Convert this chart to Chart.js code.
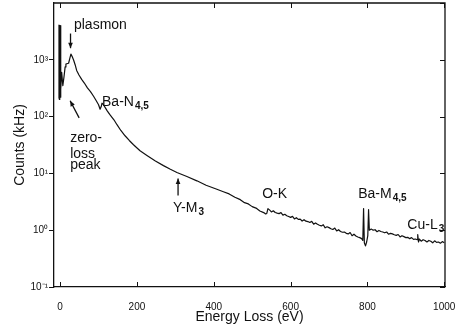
<!DOCTYPE html>
<html lang="en">
<head>
  <meta charset="UTF-8">
  <script src="https://cdn.jsdelivr.net/npm/chart.js@4.4.0/dist/chart.umd.min.js"></script>
  <title>EELS spectrum</title>
  <style>
    body { margin: 0; background: #fff; }
    #wrap { width: 459px; height: 327px; }
  </style>
</head>
<body>
  <div id="wrap"><canvas id="myChart" width="459" height="327"></canvas></div>

<script>
  // energy loss (eV) and counts (kHz)
  const energy = [-4, -3, -2, -1, 0, 1, 2, 4, 7, 10, 13, 15, 19, 22, 25, 28, 31, 35, 39, 43, 49, 56, 63, 71, 79, 87, 94,
    100, 104, 107, 109, 112, 117, 123, 130, 140, 148, 158, 169, 180, 191, 208, 226, 248, 269, 287, 304, 330, 356, 380, 408,
    425, 440, 455, 469, 480, 490, 500, 510, 520, 530, 535, 538, 541,
    545, 550, 555, 560, 565, 570, 575, 580, 585, 590, 595, 600, 605, 610, 615, 620, 625, 630, 635, 640, 645, 650, 655, 660,
    665, 670, 675, 680, 685, 690, 695, 700, 705, 710, 715, 720, 725, 730, 735, 740, 745, 750, 755, 760, 765, 770, 775, 780,
    785, 788, 790, 792, 795, 798, 801, 803, 805,
    810, 815, 820, 825, 830, 835, 840, 845, 850, 855, 860, 865, 870, 875, 880, 885, 890, 895, 900, 905, 910, 915, 920, 925,
    930, 931, 933, 935, 940, 945, 950, 955, 960, 965, 970, 975, 980, 985, 990, 995, 1000];
  const counts = [210, 4100, 200, 4000, 220, 4000, 300, 600, 350, 500, 750, 840, 860, 870, 1050, 1260, 1150, 990, 820, 650, 540, 452, 390, 320, 275, 228, 190,
    162, 135, 150, 172, 165, 145, 125, 107, 88, 72, 57, 46, 38, 32, 25, 20.7, 16.5, 13.7, 11.8, 10.4, 8.8, 7.4, 6.2, 5.25,
    4.75, 4.35, 3.8, 3.45, 3.05, 2.9, 2.6, 2.45, 2.18, 2.04, 1.93, 1.97, 2.4,
    2.28, 2.10, 2.20, 2.05, 2.00, 1.96, 2.04, 1.84, 1.91, 1.80, 1.74, 1.68, 1.75, 1.58, 1.66, 1.55, 1.57, 1.45, 1.53, 1.44,
    1.42, 1.37, 1.43, 1.28, 1.34, 1.27, 1.22, 1.19, 1.25, 1.10, 1.15, 1.11, 1.06, 1.03, 1.09, 0.97, 1.02, 0.95, 0.92, 0.93,
    0.88, 0.86, 0.91, 0.80, 0.85, 0.79, 0.76, 0.74,
    0.71, 0.66, 2.4, 0.6, 0.53, 0.62, 0.8, 2.3, 1.0,
    1.05, 1.0, 1.02, 0.94, 0.99, 0.95, 0.93, 0.90, 0.93, 0.85, 0.88, 0.86, 0.83, 0.81, 0.84, 0.76, 0.80, 0.77, 0.74, 0.75,
    0.71, 0.74, 0.69, 0.70, 0.68, 0.84, 0.62, 0.70, 0.64, 0.68, 0.66, 0.62, 0.66, 0.64, 0.60, 0.65, 0.61, 0.62, 0.59, 0.63, 0.60];

  const xTicks = [0, 200, 400, 600, 800, 1000];
  const yTicks = [0.1, 1, 10, 100, 1000, 10000];
  const yTickLabels = ['10\u207B\u00B9', '10\u2070', '10\u00B9', '10\u00B2', '10\u00B3', ''];

  // peak labels: text, subscript, anchor (eV, counts)
  const labelText = ['plasmon', 'Ba-N', 'zero-', 'loss', 'peak', 'Y-M', 'O-K', 'Ba-M', 'Cu-L'];
  const labelSub = ['', '4,5', '', '', '', '3', '', '4,5', '3'];
  const labelX = [36, 109, 26, 26, 26, 294, 526, 776, 904];
  const labelY = [3550, 155, 35, 19, 12, 2.05, 3.7, 3.7, 1.07];

  // arrows: from (eV, counts) to (eV, counts)
  const arrowX0 = [27, 49.5, 307];
  const arrowY0 = [2900, 95, 4.1];
  const arrowX1 = [27, 26, 307];
  const arrowY1 = [1600, 190, 8.1];

  const FONT = '"Liberation Sans", Arial, sans-serif';
  const INK = '#111';

  /* cornice, tacche interne ed etichette */
  const extras = {
    id: 'extras',
    afterDraw(chart) {
      const ctx = chart.ctx;
      const a = chart.chartArea;
      const xs = chart.scales.x, ys = chart.scales.y;
      ctx.save();
      ctx.strokeStyle = INK;
      ctx.lineWidth = 1.3;
      ctx.beginPath();
      ctx.moveTo(a.left, a.top); ctx.lineTo(a.right, a.top); ctx.lineTo(a.right, a.bottom);
      ctx.stroke();

      ctx.lineWidth = 1;
      ctx.beginPath();
      xTicks.forEach(v => {
        const px = Math.round(xs.getPixelForValue(v)) + 0.5;
        ctx.moveTo(px, a.bottom); ctx.lineTo(px, a.bottom - 5);
        ctx.moveTo(px, a.top); ctx.lineTo(px, a.top + 5);
      });
      yTicks.forEach(v => {
        const py = Math.round(ys.getPixelForValue(v)) + 0.5;
        ctx.moveTo(a.right, py); ctx.lineTo(a.right - 5, py);
      });
      ctx.stroke();

      // arrows
      ctx.lineWidth = 1.3;
      for (let i = 0; i < arrowX0.length; i++) {
        const x0 = xs.getPixelForValue(arrowX0[i]), y0 = ys.getPixelForValue(arrowY0[i]);
        const x1 = xs.getPixelForValue(arrowX1[i]), y1 = ys.getPixelForValue(arrowY1[i]);
        const ang = Math.atan2(y1 - y0, x1 - x0);
        ctx.beginPath();
        ctx.moveTo(x0, y0); ctx.lineTo(x1, y1);
        ctx.stroke();
        ctx.beginPath();
        ctx.moveTo(x1, y1);
        ctx.lineTo(x1 - 6 * Math.cos(ang - 0.4), y1 - 6 * Math.sin(ang - 0.4));
        ctx.lineTo(x1 - 6 * Math.cos(ang + 0.4), y1 - 6 * Math.sin(ang + 0.4));
        ctx.closePath();
        ctx.fillStyle = INK;
        ctx.fill();
      }

      // labels
      ctx.fillStyle = INK;
      ctx.textBaseline = 'alphabetic';
      ctx.textAlign = 'left';
      for (let i = 0; i < labelText.length; i++) {
        const px = xs.getPixelForValue(labelX[i]);
        const py = ys.getPixelForValue(labelY[i]);
        ctx.font = '14px ' + FONT;
        ctx.fillText(labelText[i], px, py);
        if (labelSub[i]) {
          const w = ctx.measureText(labelText[i]).width;
          ctx.font = 'bold 10px ' + FONT;
          ctx.fillText(labelSub[i], px + w + 1, py + 3);
        }
      }
      ctx.restore();
    }
  };

  const ctx = document.getElementById('myChart').getContext('2d');
  const myChart = new Chart(ctx, {
    type: 'line',
    data: {
      datasets: [{
        data: energy.map((e, i) => ({ x: e, y: counts[i] })),
        borderColor: INK,
        borderWidth: 1.2,
        borderJoinStyle: 'round',
        pointRadius: 0,
        tension: 0,
        fill: false
      }]
    },
    options: {
      responsive: false,
      animation: false,
      layout: { padding: { top: 3, right: 14, left: 0, bottom: 0 } },
      plugins: {
        legend: { display: false },
        tooltip: { enabled: false }
      },
      scales: {
        x: {
          type: 'linear',
          min: -16,
          max: 1002,
          afterBuildTicks: s => { s.ticks = xTicks.map(v => ({ value: v })); },
          afterFit: s => { s.height = 40; s.paddingLeft = 0; s.paddingRight = 0; },
          grid: { display: false },
          border: { display: true, color: INK, width: 1.3 },
          ticks: { color: INK, font: { family: FONT, size: 10 }, padding: 6, maxRotation: 0, callback: v => String(v) },
          title: { display: true, text: 'Energy Loss (eV)', color: INK, font: { family: FONT, size: 14 }, padding: { top: 0, bottom: 1 } }
        },
        y: {
          type: 'logarithmic',
          min: 0.1,
          max: 10000,
          afterBuildTicks: s => { s.ticks = yTicks.map(v => ({ value: v })); },
          afterFit: s => { s.width = 54; s.paddingTop = 0; s.paddingBottom = 0; },
          grid: {
            drawOnChartArea: false,
            tickLength: 5,
            color: c => (c.tick && c.tick.value === 10000 ? 'rgba(0,0,0,0)' : INK)
          },
          border: { display: true, color: INK, width: 1.3 },
          ticks: {
            color: INK,
            font: { family: FONT, size: 10 },
            padding: 1,
            callback: (v) => yTickLabels[yTicks.indexOf(v)]
          },
          title: { display: true, text: 'Counts (kHz)', color: INK, font: { family: FONT, size: 14 }, padding: { top: 12, bottom: 0 } }
        }
      }
    },
    plugins: [extras]
  });
</script>
</body>
</html>
